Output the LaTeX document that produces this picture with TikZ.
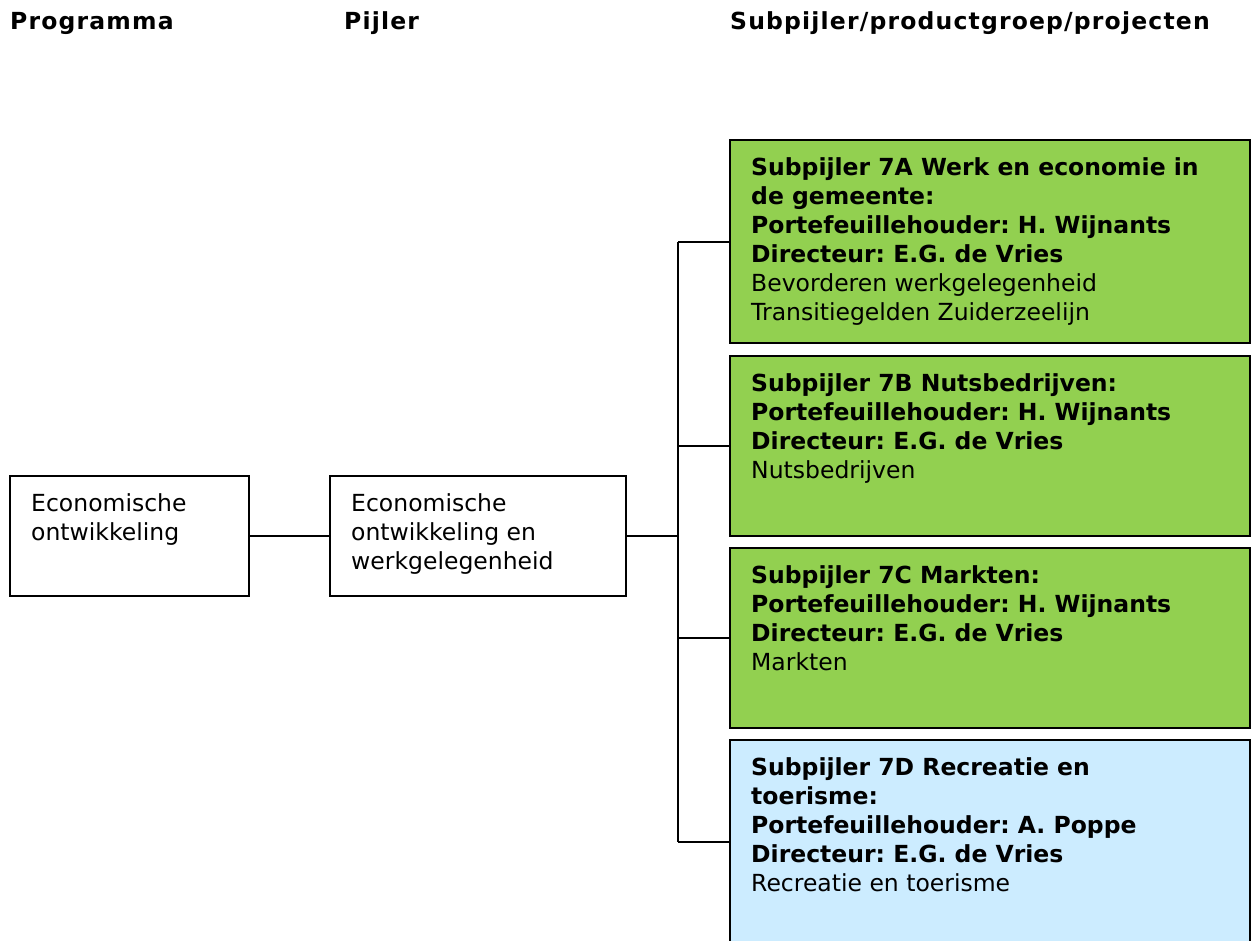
\documentclass[tikz,border=0pt]{standalone}
\usepackage{fontspec}
\setmainfont{DejaVu Sans}
\newfontfamily\hdfont{DejaVu Sans}[LetterSpace=5]
\definecolor{boxgreen}{HTML}{92D050}
\definecolor{boxblue}{HTML}{CCECFF}
\begin{document}
\frenchspacing
\begin{tikzpicture}[x=1pt,y=-1pt,
  box/.style={draw=black,line width=1.6pt,anchor=north west,inner sep=0pt,outer sep=0pt},
  txt/.style={anchor=north west,inner sep=0pt,align=left,font=\fontsize{23.5}{29}\selectfont},
  hd/.style={anchor=base west,inner sep=0pt,font=\hdfont\bfseries\fontsize{23.5}{26}\selectfont},
  conn/.style={draw=black,line width=1.6pt}]
\useasboundingbox (0,0) rectangle (1260,940);
\begin{scope}
\clip (0,0) rectangle (1260,940);
\node[hd] (h1) at (10,29) {Programma};
\node[hd] (h2) at (344,29) {Pijler};
\node[hd] (h3) at (730,29) {Subpijler/productgroep/projecten};

\node[box,minimum width=239pt,minimum height=120pt] (prog) at (10,476) {};
\node[box,minimum width=296pt,minimum height=120pt] (pij) at (330,476) {};
\node[box,fill=boxgreen,minimum width=520pt,minimum height=203pt] (a) at (730,140) {};
\node[box,fill=boxgreen,minimum width=520pt,minimum height=180pt] (b) at (730,356) {};
\node[box,fill=boxgreen,minimum width=520pt,minimum height=180pt] (c) at (730,548) {};
\node[box,fill=boxblue,minimum width=520pt,minimum height=215pt] (d) at (730,740) {};

\node[txt] (tprog) at (31,493) {Economische\\ontwikkeling};
\node[txt] (tpij) at (351,493) {Economische\\ontwikkeling en\\werkgelegenheid};
\node[txt] (ta) at (751,157) {\bfseries Subpijler 7A Werk en economie in\\\bfseries de gemeente:\\\bfseries Portefeuillehouder: H. Wijnants\\\bfseries Directeur: E.G. de Vries\\Bevorderen werkgelegenheid\\Transitiegelden Zuiderzeelijn};
\node[txt] (tb) at (751,373) {\bfseries Subpijler 7B Nutsbedrijven:\\\bfseries Portefeuillehouder: H. Wijnants\\\bfseries Directeur: E.G. de Vries\\Nutsbedrijven};
\node[txt] (tc) at (751,565) {\bfseries Subpijler 7C Markten:\\\bfseries Portefeuillehouder: H. Wijnants\\\bfseries Directeur: E.G. de Vries\\Markten};
\node[txt] (td) at (751,757) {\bfseries Subpijler 7D Recreatie en\\\bfseries toerisme:\\\bfseries Portefeuillehouder: A. Poppe\\\bfseries Directeur: E.G. de Vries\\Recreatie en toerisme};

\coordinate (ja) at (678,242);
\coordinate (jd) at (678,842);
\coordinate (j) at (pij.east -| ja);
\coordinate (jb) at (678,446);
\coordinate (jc) at (678,638);
\draw[conn] (prog.east) -- (pij.west);
\draw[conn] (pij.east) -- (j);
\draw[conn] (ja) -- (jd);
\draw[conn] (ja) -- (ja -| a.west);
\draw[conn] (jb) -- (jb -| b.west);
\draw[conn] (jc) -- (jc -| c.west);
\draw[conn] (jd) -- (jd -| d.west);
\end{scope}
\end{tikzpicture}
\end{document}
